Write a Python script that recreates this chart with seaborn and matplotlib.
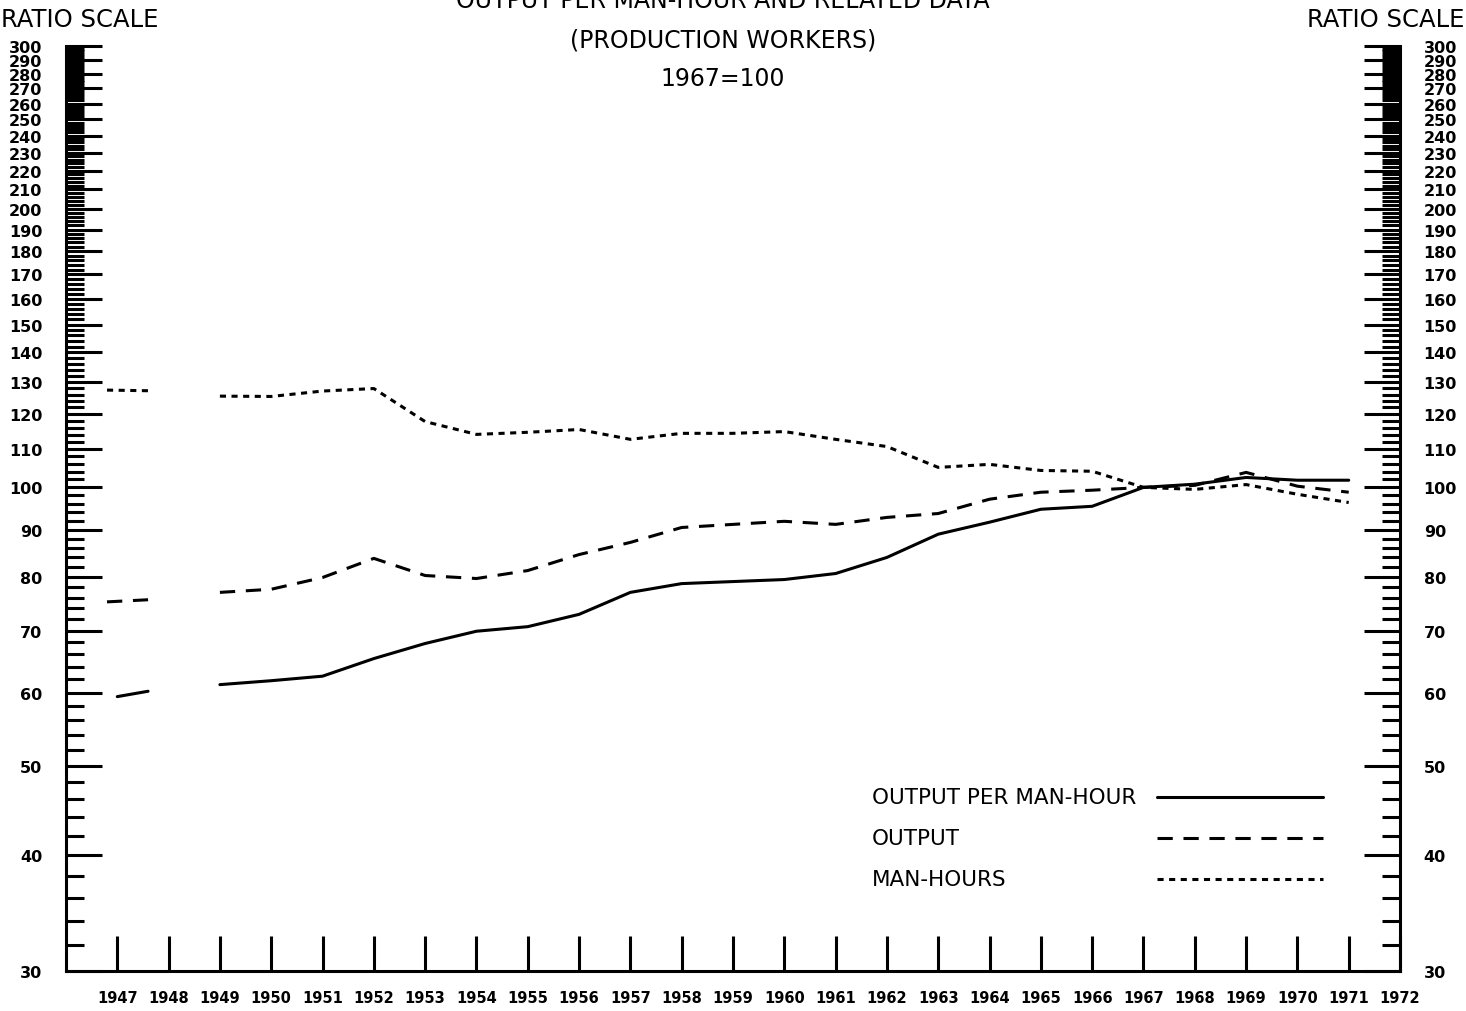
import numpy as np
import pandas as pd
import matplotlib
matplotlib.use("Agg")
import matplotlib.pyplot as plt
import matplotlib.ticker as mticker
import seaborn as sns

# Data (1967=100)
years = [1949, 1950, 1951, 1952, 1953, 1954, 1955, 1956, 1957, 1958, 1959, 1960,
         1961, 1962, 1963, 1964, 1965, 1966, 1967, 1968, 1969, 1970, 1971]
output_per_manhour = [61.2, 61.8, 62.5, 65.3, 67.8, 69.9, 70.7, 72.9, 77.0, 78.7, 79.1, 79.5,
                      80.7, 84.0, 89.0, 91.7, 94.7, 95.4, 100.0, 100.8, 102.5, 101.8, 101.8]
output = [77.0, 77.6, 79.9, 83.8, 80.3, 79.7, 81.3, 84.6, 87.2, 90.5, 91.2, 91.9,
          91.2, 92.8, 93.7, 97.1, 98.8, 99.3, 100.0, 100.5, 103.8, 100.3, 98.8]
man_hours = [125.5, 125.4, 127.1, 127.9, 117.8, 114.1, 114.7, 115.5, 112.7, 114.4, 114.4, 114.9,
             112.7, 110.7, 105.1, 105.9, 104.3, 104.1, 100.0, 99.5, 100.7, 98.3, 96.3]

# short stubs drawn near 1947
stub_years_solid = [1947.0, 1947.6]
stub_oph = [59.4, 60.2]
stub_years_other = [1946.8, 1947.6]
stub_output = [75.2, 75.6]
stub_manhours = [127.4, 127.2]

tick_years = list(range(1947, 1973))
labels = ["OUTPUT PER MAN-HOUR", "OUTPUT", "MAN-HOURS"]

sns.set_style("ticks")
plt.rcParams['font.family'] = ['DejaVu Sans']
plt.rcParams.update({'text.color': 'black', 'axes.edgecolor': 'black',
                     'xtick.color': 'black', 'ytick.color': 'black',
                     'axes.labelcolor': 'black'})

fig = plt.figure(figsize=(14.66, 10.12), dpi=100)
ax = fig.add_axes([0.045, 0.0395, 0.91, 0.914])

solid = dict(color='black', lw=2.2, linestyle='-')
dashed = dict(color='black', lw=2.2, linestyle=(0, (5, 3.5)))
dotted = dict(color='black', lw=2.2, linestyle=(0, (2, 1.8)))

sns.lineplot(x=years, y=output_per_manhour, ax=ax, **solid)
sns.lineplot(x=years, y=output, ax=ax, **dashed)
sns.lineplot(x=years, y=man_hours, ax=ax, **dotted)
sns.lineplot(x=stub_years_solid, y=stub_oph, ax=ax, **solid)
sns.lineplot(x=stub_years_other, y=stub_output, ax=ax, **dashed)
sns.lineplot(x=stub_years_other, y=stub_manhours, ax=ax, **dotted)

ax.set_yscale('log')
ax.set_ylim(30, 300)
ax.set_xlim(1946, 1972)

# y ticks: majors every 10, minors every 2
majors = list(range(30, 301, 10))
minors = [v for v in range(30, 301, 2) if v % 10 != 0]
ax.yaxis.set_major_locator(mticker.FixedLocator(majors))
ax.yaxis.set_minor_locator(mticker.FixedLocator(minors))
ax.yaxis.set_major_formatter(mticker.FixedFormatter([str(v) for v in majors]))
ax.yaxis.set_minor_formatter(mticker.NullFormatter())
ax.tick_params(axis='y', which='major', direction='in', length=26, width=2.2,
               left=True, right=True, labelleft=True, labelright=True, pad=17,
               labelsize=11.5)
ax.tick_params(axis='y', which='minor', direction='in', length=13, width=2.2,
               left=True, right=True, labelleft=False, labelright=False)
for t in ax.yaxis.get_major_ticks():
    t.label1.set_fontweight('bold')
    t.label2.set_fontweight('bold')
    t.label1.set_horizontalalignment('right')
    t.label2.set_horizontalalignment('left')

ax.set_xticks(tick_years)
ax.set_xticklabels([str(y) for y in tick_years], fontweight='bold', fontsize=10.5)
ax.xaxis.set_minor_locator(mticker.NullLocator())
ax.tick_params(axis='x', direction='in', length=25, width=2.2, pad=14, top=False)
ax.set_xlabel('')
ax.set_ylabel('')

for s in ['left', 'right', 'bottom']:
    ax.spines[s].set_linewidth(2.2)
ax.spines['top'].set_visible(False)

# titles
fig.text(0.493, 0.999, "OUTPUT PER MAN-HOUR AND RELATED DATA", ha='center', va='center', fontsize=17)
fig.text(0.493, 0.960, "(PRODUCTION WORKERS)", ha='center', va='center', fontsize=17)
fig.text(0.493, 0.922, "1967=100", ha='center', va='center', fontsize=17)
fig.text(0.001, 0.980, "RATIO SCALE", ha='left', va='center', fontsize=17.5)
fig.text(0.999, 0.980, "RATIO SCALE", ha='right', va='center', fontsize=17.5)

# legend drawn by hand
styles = [solid, dashed, dotted]
leg_y = [0.188, 0.144, 0.100]
for lab, st, yy in zip(labels, styles, leg_y):
    ax.text(0.604, yy, lab, transform=ax.transAxes, ha='left', va='center', fontsize=15.5)
    ax.plot([0.818, 0.942], [yy, yy], transform=ax.transAxes, **st)

fig.savefig("out.png", dpi=100)
